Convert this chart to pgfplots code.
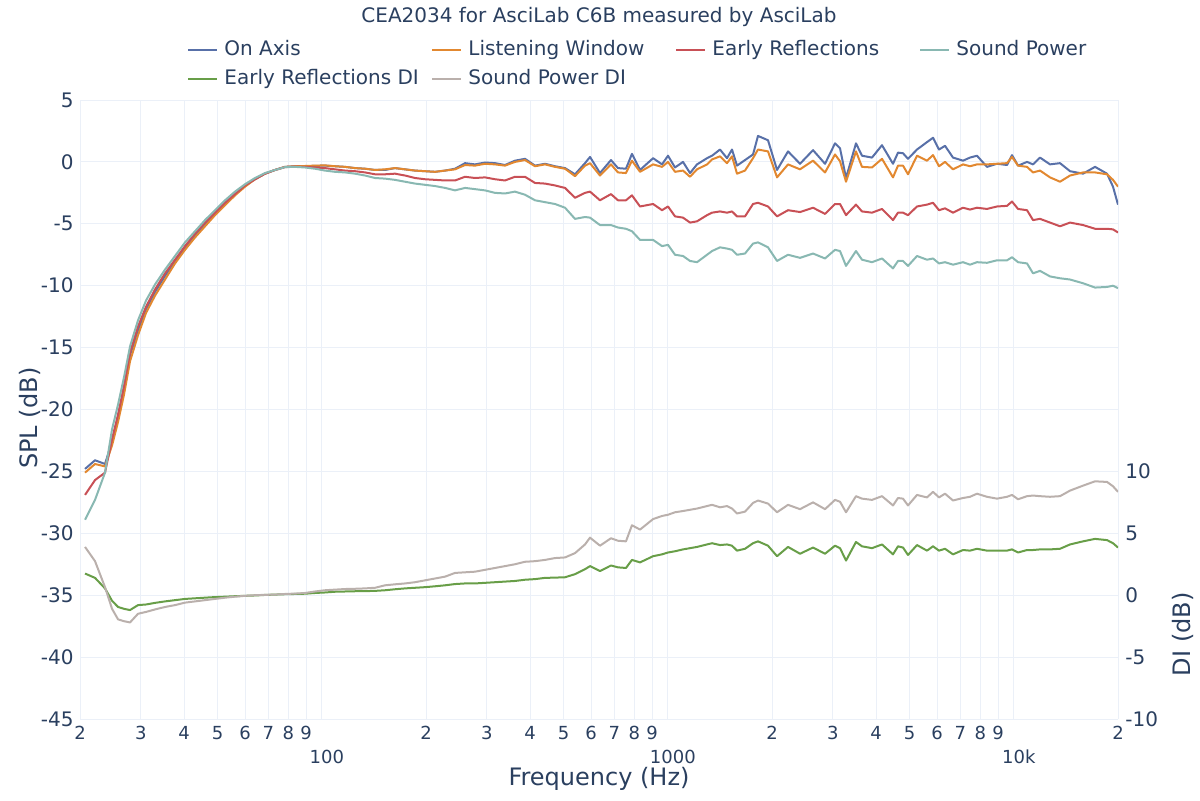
\documentclass[border=0pt]{standalone}
\usepackage{pgfplots}
\pgfplotsset{compat=1.18}
\usepackage{pgfplotstable}
\usepackage{fontspec}
\setmainfont{DejaVu Sans}
\definecolor{txt}{RGB}{42,63,95}
\definecolor{grd}{RGB}{235,240,248}
\definecolor{cON}{RGB}{88,112,168}
\definecolor{cLW}{RGB}{226,136,48}
\definecolor{cER}{RGB}{200,80,86}
\definecolor{cSP}{RGB}{137,184,178}
\definecolor{cERDI}{RGB}{104,158,72}
\definecolor{cSPDI}{RGB}{186,176,172}

\pgfplotstableread{
f ON LW ER SP ERDI SPDI
20.68 -24.8 -25.1 -26.9 -28.9 1.75 3.9
22.10 -24.1 -24.4 -25.7 -27.3 1.4 2.75
23.62 -24.4 -24.6 -25.1 -25.1 0.55 0.65
24.75 -22.6 -22.9 -22.4 -21.6 -0.45 -1.1
25.76 -20.6 -21.0 -20.4 -19.6 -0.95 -1.95
26.80 -18.3 -18.8 -18.1 -17.4 -1.1 -2.1
27.90 -15.6 -16.1 -15.4 -14.9 -1.2 -2.2
29.42 -13.6 -14.0 -13.3 -12.8 -0.8 -1.5
31.03 -11.9 -12.2 -11.7 -11.2 -0.75 -1.35
32.95 -10.5 -10.8 -10.3 -9.9 -0.62 -1.15
35.22 -9.2 -9.5 -9.0 -8.7 -0.5 -0.95
37.64 -8.0 -8.2 -7.9 -7.6 -0.4 -0.8
40.23 -6.9 -7.1 -6.8 -6.5 -0.3 -0.6
43.00 -5.9 -6.1 -5.8 -5.6 -0.25 -0.5
45.96 -5.0 -5.2 -4.9 -4.7 -0.2 -0.4
49.12 -4.1 -4.3 -4.1 -3.9 -0.15 -0.3
52.50 -3.3 -3.5 -3.3 -3.1 -0.12 -0.2
56.11 -2.6 -2.7 -2.6 -2.4 -0.08 -0.12
59.98 -1.9 -2.0 -1.9 -1.8 -0.05 -0.05
64.10 -1.4 -1.4 -1.4 -1.3 -0.02 0.0
68.51 -0.95 -0.95 -0.95 -0.9 0.02 0.03
73.23 -0.65 -0.65 -0.65 -0.65 0.05 0.05
78.27 -0.4 -0.4 -0.42 -0.42 0.08 0.1
83.65 -0.35 -0.35 -0.38 -0.4 0.1 0.13
89.41 -0.35 -0.33 -0.4 -0.45 0.12 0.18
95.55 -0.32 -0.3 -0.45 -0.55 0.18 0.3
102.1 -0.3 -0.28 -0.5 -0.7 0.22 0.4
109.2 -0.35 -0.35 -0.6 -0.8 0.28 0.45
116.7 -0.4 -0.4 -0.7 -0.85 0.3 0.5
124.7 -0.5 -0.5 -0.75 -0.95 0.32 0.52
133.3 -0.55 -0.55 -0.85 -1.1 0.33 0.55
142.5 -0.65 -0.65 -1.0 -1.3 0.35 0.6
152.3 -0.65 -0.6 -1.0 -1.35 0.4 0.8
162.7 -0.5 -0.5 -0.95 -1.45 0.48 0.88
173.9 -0.6 -0.6 -1.1 -1.6 0.55 0.95
185.9 -0.7 -0.7 -1.3 -1.75 0.6 1.05
198.7 -0.75 -0.75 -1.4 -1.85 0.65 1.2
212.4 -0.8 -0.8 -1.45 -1.95 0.72 1.35
227.0 -0.7 -0.7 -1.5 -2.1 0.8 1.5
242.6 -0.55 -0.6 -1.5 -2.3 0.9 1.8
259.3 -0.1 -0.25 -1.2 -2.1 0.95 1.85
277.1 -0.2 -0.3 -1.3 -2.2 0.95 1.9
296.2 -0.05 -0.15 -1.25 -2.3 1.0 2.05
316.6 -0.1 -0.2 -1.4 -2.5 1.05 2.2
338.3 -0.25 -0.3 -1.5 -2.55 1.1 2.35
361.6 0.1 0.0 -1.2 -2.4 1.15 2.5
386.5 0.25 0.15 -1.2 -2.65 1.25 2.7
413.1 -0.3 -0.35 -1.7 -3.1 1.3 2.75
441.5 -0.15 -0.2 -1.75 -3.25 1.4 2.85
471.9 -0.35 -0.4 -1.9 -3.4 1.42 3.0
504.4 -0.5 -0.55 -2.1 -3.7 1.45 3.05
539.1 -1.0 -1.15 -2.9 -4.6 1.7 3.4
576.2 -0.1 -0.3 -2.5 -4.45 2.1 4.1
595.7 0.4 -0.1 -2.4 -4.5 2.35 4.65
636.6 -0.9 -1.1 -3.1 -5.1 1.95 4.0
684.9 0.15 -0.2 -2.6 -5.1 2.4 4.6
717.6 -0.5 -0.85 -3.1 -5.3 2.25 4.4
756.8 -0.55 -0.9 -3.1 -5.4 2.2 4.35
787.6 0.65 0.1 -2.7 -5.6 2.85 5.65
831.0 -0.65 -0.8 -3.6 -6.3 2.65 5.3
906.3 0.3 -0.2 -3.4 -6.3 3.15 6.15
961.9 -0.2 -0.4 -3.9 -6.8 3.3 6.4
1001 0.5 0.0 -3.6 -6.7 3.45 6.5
1048.8 -0.45 -0.8 -4.4 -7.5 3.55 6.7
1106.1 0.0 -0.7 -4.5 -7.6 3.7 6.8
1158.9 -0.9 -1.2 -4.9 -8.0 3.8 6.9
1214.1 -0.2 -0.6 -4.8 -8.1 3.9 7.0
1297.9 0.3 -0.2 -4.3 -7.5 4.1 7.2
1341.8 0.5 0.2 -4.1 -7.2 4.2 7.3
1414.9 1.0 0.45 -4.0 -6.9 4.05 7.1
1482.3 0.3 -0.1 -4.1 -7.0 4.1 7.2
1532.5 1.0 0.45 -4.0 -7.1 4.0 7.0
1584.4 -0.3 -0.95 -4.4 -7.5 3.6 6.6
1671.1 0.15 -0.7 -4.4 -7.4 3.75 6.75
1762.5 0.6 0.3 -3.4 -6.6 4.2 7.45
1822.1 2.1 1.0 -3.3 -6.5 4.35 7.65
1947.5 1.75 0.85 -3.6 -6.9 4.0 7.4
2068.0 -0.65 -1.25 -4.4 -8.0 3.15 6.7
2224.9 0.85 -0.2 -3.9 -7.5 3.9 7.3
2409.9 -0.15 -0.6 -4.05 -7.75 3.35 6.95
2627.4 0.95 0.1 -3.7 -7.4 3.85 7.5
2846.1 -0.15 -0.85 -4.2 -7.8 3.35 6.95
3041.9 1.5 0.6 -3.4 -7.1 4.0 7.7
3144.8 1.1 0.05 -3.4 -7.2 3.8 7.55
3272.9 -1.3 -1.6 -4.3 -8.4 2.8 6.7
3497.5 1.5 0.85 -3.45 -7.2 4.3 8.0
3640.0 0.5 -0.4 -4.0 -7.9 3.95 7.8
3890.5 0.35 -0.45 -4.1 -8.1 3.8 7.7
4158.2 1.35 0.25 -3.8 -7.8 4.1 8.0
4474.0 -0.15 -1.25 -4.7 -8.6 3.3 7.25
4625.4 0.75 -0.3 -4.1 -8.0 3.95 7.85
4781.9 0.7 -0.3 -4.1 -8.0 3.85 7.8
4943.7 0.25 -1.0 -4.3 -8.4 3.25 7.25
5249.0 1.0 0.5 -3.6 -7.6 4.05 8.1
5610.2 1.6 0.1 -3.45 -7.9 3.6 7.9
5839.0 1.95 0.55 -3.3 -7.8 3.95 8.35
6077.0 1.0 -0.35 -3.9 -8.2 3.6 7.9
6324.6 1.3 0.0 -3.75 -8.1 3.75 8.2
6670.3 0.35 -0.6 -4.1 -8.3 3.3 7.65
7129.2 0.1 -0.2 -3.7 -8.1 3.65 7.85
7469.2 0.35 -0.35 -3.85 -8.3 3.6 7.95
7825.0 0.5 -0.2 -3.7 -8.1 3.75 8.2
8362.0 -0.4 -0.2 -3.8 -8.15 3.6 7.95
8938.4 -0.15 -0.15 -3.6 -7.95 3.6 7.8
9554.2 -0.25 -0.1 -3.55 -7.95 3.6 7.95
9877.1 0.55 0.4 -3.2 -7.7 3.7 8.1
10281 -0.3 -0.3 -3.8 -8.1 3.45 7.75
10915 0.0 -0.4 -3.9 -8.2 3.65 8.0
11360 -0.2 -0.85 -4.7 -9.0 3.65 8.05
11902 0.35 -0.7 -4.6 -8.8 3.7 8.0
12720 -0.2 -1.25 -4.9 -9.25 3.7 7.95
13597 -0.1 -1.6 -5.2 -9.4 3.75 8.0
14532 -0.75 -1.1 -4.9 -9.5 4.1 8.45
15845 -0.95 -0.85 -5.1 -9.8 4.35 8.85
17165 -0.4 -0.85 -5.4 -10.15 4.55 9.2
18590 -0.95 -1.0 -5.4 -10.1 4.45 9.15
19347 -2.0 -1.45 -5.45 -10.0 4.2 8.8
20000 -3.45 -2.0 -5.7 -10.2 3.85 8.35
}\data

\newcommand{\mj}[1]{\raisebox{-12pt}{\hspace{5pt}#1}}

\begin{document}
\begin{tikzpicture}
\path[use as bounding box] (-40pt,-40.5pt) rectangle (560pt,359.5pt);
\begin{axis}[
  scale only axis, width=519pt, height=309.5pt,
  xmode=log, xmin=20, xmax=20000,
  ymin=-45, ymax=5,
  xtick={20,30,40,50,60,70,80,90,100,200,300,400,500,600,700,800,900,1000,2000,3000,4000,5000,6000,7000,8000,9000,10000,20000},
  xticklabels={2,3,4,5,6,7,8,9,\mj{100},2,3,4,5,6,7,8,9,\mj{1000},2,3,4,5,6,7,8,9,\mj{10k},2},
  ytick={-45,-40,-35,-30,-25,-20,-15,-10,-5,0,5},
  yticklabels={-45,-40,-35,-30,-25,-20,-15,-10,-5,0,5},
  minor tick num=0,
  axis line style={draw=none},
  major tick length=0pt,
  xmajorgrids, ymajorgrids,
  major grid style={grd, line width=0.5pt},
  xticklabel style={anchor=base, yshift=-10.3pt, inner sep=0pt, text=txt, font=\fontsize{9}{11}\selectfont},
  yticklabel style={anchor=east, xshift=-3pt, inner sep=0pt, text=txt, font=\fontsize{10}{12}\selectfont},
  every axis y label/.style={at={(axis description cs:-0.048,0.486)}, anchor=center, rotate=90, text=txt, font=\fontsize{12}{14}\selectfont},
  every axis x label/.style={at={(axis description cs:0.5,-0.097)}, anchor=center, text=txt, font=\fontsize{12}{14}\selectfont},
  ylabel={SPL (dB)},
  xlabel={Frequency (Hz)},
  title={CEA2034 for AsciLab C6B measured by AsciLab},
  every axis title/.style={at={(axis description cs:0.5,1.134)}, anchor=center, text=txt, font=\fontsize{10}{12}\selectfont},
  legend columns=4,
  legend cell align=left,
  legend image code/.code={\draw[#1] (0pt,0pt) -- (14.5pt,0pt);},
  legend style={at={(axis description cs:0.1031,1.0975)}, anchor=north west, draw=none, fill=none, inner sep=0pt, column sep=0pt, row sep=4.5pt, text=txt, font=\fontsize{10}{12}\selectfont, nodes={inner xsep=3pt, inner ysep=0pt, text height=7.5pt, text depth=2.5pt}},
  every axis plot/.append style={line width=1pt, line join=round},
]
\addplot[cON] table[x=f,y=ON]{\data};
\addlegendentry{\makebox[100.5pt][l]{On Axis}}
\addplot[cLW] table[x=f,y=LW]{\data};
\addlegendentry{\makebox[100.5pt][l]{Listening Window}}
\addplot[cER] table[x=f,y=ER]{\data};
\addlegendentry{\makebox[100.5pt][l]{Early Reflections}}
\addplot[cSP] table[x=f,y=SP]{\data};
\addlegendentry{\makebox[100.5pt][l]{Sound Power}}
\addlegendimage{cERDI, line width=1pt}
\addlegendentry{\makebox[100.5pt][l]{Early Reflections DI}}
\addlegendimage{cSPDI, line width=1pt}
\addlegendentry{\makebox[100.5pt][l]{Sound Power DI}}
\end{axis}
\begin{axis}[
  scale only axis, width=519pt, height=309.5pt,
  xmode=log, xmin=20, xmax=20000,
  ymin=-10, ymax=40,
  axis x line=none,
  axis y line*=right,
  axis line style={draw=none},
  ytick={-10,-5,0,5,10},
  yticklabels={-10,-5,0,5,10},
  minor tick num=0,
  major tick length=0pt,
  yticklabel style={anchor=west, xshift=3.5pt, inner sep=0pt, text=txt, font=\fontsize{10}{12}\selectfont},
  every axis y label/.style={at={(axis description cs:1.0626,0.137)}, anchor=center, rotate=90, text=txt, font=\fontsize{12}{14}\selectfont},
  ylabel={DI (dB)},
  every axis plot/.append style={line width=1pt, line join=round},
]
\addplot[cERDI] table[x=f,y=ERDI]{\data};
\addplot[cSPDI] table[x=f,y=SPDI]{\data};
\end{axis}
\end{tikzpicture}
\end{document}
